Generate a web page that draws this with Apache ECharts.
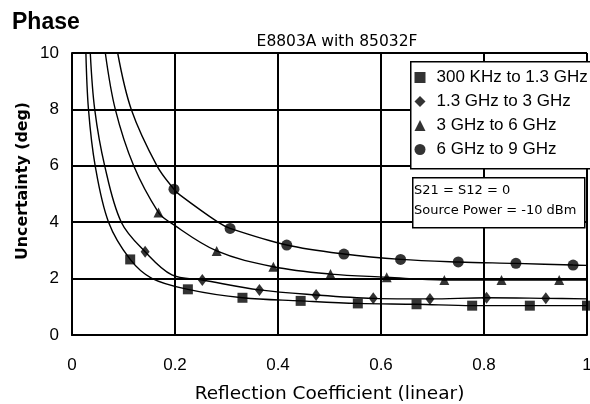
<!DOCTYPE html>
<html><head><meta charset="utf-8">
<script src="https://cdn.jsdelivr.net/npm/echarts@6/dist/echarts.min.js"></script>
<style>html,body{margin:0;padding:0;background:#fff;overflow:hidden}#c{width:590px;height:404px}</style>
</head><body><div id="c"></div>
<script>
// ---- data ----
const seriesNames = ['300 KHz to 1.3 GHz', '1.3 GHz to 3 GHz', '3 GHz to 6 GHz', '6 GHz to 9 GHz'];
const xTickLabels = ['0', '0.2', '0.4', '0.6', '0.8', '1'];
const yTickLabels = ['0', '2', '4', '6', '8', '10'];

// marker points
const s1X = [0.113, 0.225, 0.331, 0.444, 0.555, 0.669, 0.777, 0.889, 1.0];
const s1Y = [2.68, 1.62, 1.32, 1.21, 1.12, 1.09, 1.04, 1.04, 1.04];
const s2X = [0.142, 0.253, 0.364, 0.474, 0.585, 0.695, 0.805, 0.920];
const s2Y = [2.95, 1.95, 1.60, 1.42, 1.30, 1.28, 1.32, 1.30];
const s3X = [0.168, 0.281, 0.391, 0.502, 0.611, 0.723, 0.834, 0.946];
const s3Y = [4.34, 2.98, 2.42, 2.16, 2.05, 1.95, 1.95, 1.95];
const s4X = [0.198, 0.307, 0.417, 0.528, 0.638, 0.750, 0.862, 0.973];
const s4Y = [5.17, 3.78, 3.19, 2.87, 2.68, 2.59, 2.54, 2.48];

// extra points (steep part and between markers)
const c1X = [0.027, 0.032, 0.045, 0.071, 0.155];
const c1Y = [10, 8, 6, 4, 2.01];
const c2X = [0.0355, 0.0441, 0.0635, 0.0957, 0.194, 1.0];
const c2Y = [10, 8, 6, 4, 2.13, 1.28];
const c3X = [0.0647, 0.0841, 0.1198, 0.19, 1.0];
const c3Y = [10, 8, 6, 4.0, 1.95];
const c4X = [0.0887, 0.1151, 0.165, 0.21, 0.2835, 1.0];
const c4Y = [10, 8, 6, 4.96, 4.0, 2.47];

const boxLines = ['S21 = S12 = 0', 'Source Power = -10 dBm'];

// ---- build ----
function pairs(xs, ys) { return xs.map((x, i) => [x, ys[i]]); }
function curve(mx, my, cx, cy) {
  return pairs(mx, my).concat(pairs(cx, cy)).sort((a, b) => a[0] - b[0]);
}
const markerX = [s1X, s2X, s3X, s4X], markerY = [s1Y, s2Y, s3Y, s4Y];
const curveX = [c1X, c2X, c3X, c4X], curveY = [c1Y, c2Y, c3Y, c4Y];
const symbols = ['rect', 'diamond', 'triangle', 'circle'];
const symSizes = [10, [9, 12], 10, 11];

const series = [];
for (let i = 0; i < 4; i++) {
  series.push({
    type: 'line', name: 'curve' + i, data: curve(markerX[i], markerY[i], curveX[i], curveY[i]),
    showSymbol: false, smooth: 0.35,
    lineStyle: { color: '#000', width: 1.4 }, z: 3, silent: true
  });
}
for (let i = 0; i < 4; i++) {
  series.push({
    type: 'scatter', name: seriesNames[i], data: pairs(markerX[i], markerY[i]),
    symbol: symbols[i], symbolSize: symSizes[i],
    itemStyle: { color: '#000' }, z: 4
  });
}

const tickFont = '"Liberation Sans Narrow", "Arial Narrow", "Liberation Sans", Arial, sans-serif';
const chart = echarts.init(document.getElementById('c'), null, { renderer: 'canvas' });
chart.setOption({
  animation: false,
  backgroundColor: '#fff',
  title: {
    text: 'Phase', left: 12, top: 11, padding: 0,
    textStyle: { fontFamily: '"Liberation Sans", Arial, sans-serif', fontWeight: 'bold', fontSize: 23, color: '#000' }
  },
  grid: { left: 72, right: 3, top: 53, bottom: 69, containLabel: false, outerBoundsMode: 'none' },
  xAxis: {
    type: 'value', min: 0, max: 1, interval: 0.2,
    name: 'Reflection Coefficient (linear)', nameLocation: 'middle', nameGap: 50,
    nameTextStyle: { fontFamily: '"DejaVu Sans", sans-serif', fontSize: 18.5, color: '#000' },
    axisLine: { show: true, lineStyle: { color: '#000', width: 2 } },
    axisTick: { show: false },
    splitLine: { show: true, lineStyle: { color: '#000', width: 2 } },
    axisLabel: {
      margin: 22, color: '#000', fontSize: 17, fontFamily: tickFont,
      formatter: v => xTickLabels[Math.round(v / 0.2)]
    }
  },
  yAxis: {
    type: 'value', min: 0, max: 10, interval: 2,
    axisLine: { show: true, lineStyle: { color: '#000', width: 2 } },
    axisTick: { show: false },
    splitLine: { show: true, lineStyle: { color: '#000', width: 2 } },
    axisLabel: {
      margin: 13, color: '#000', fontSize: 17, fontFamily: tickFont,
      formatter: v => yTickLabels[Math.round(v / 2)]
    }
  },
  legend: {
    data: seriesNames, orient: 'vertical', left: 414.5, top: 69, padding: 0,
    itemWidth: 11, itemHeight: 11, itemGap: 7,
    textStyle: { fontFamily: '"Liberation Sans", Arial, sans-serif', fontSize: 17, lineHeight: 17, color: '#000', padding: [0, 0, 0, 6] },
    selectedMode: false, z: 10
  },
  graphic: [
    { type: 'rect', left: 410, top: 61, shape: { width: 182, height: 107 },
      style: { fill: '#fff', stroke: '#000', lineWidth: 1.5 }, z: 5 },
    { type: 'rect', left: 412, top: 177, shape: { width: 172, height: 50 },
      style: { fill: '#fff', stroke: '#000', lineWidth: 1.5 }, z: 5 },
    { type: 'text', left: 414, top: 184, z: 6,
      style: { text: boxLines[0], fill: '#000', font: '13px "DejaVu Sans", sans-serif' } },
    { type: 'text', left: 414, top: 204, z: 6,
      style: { text: boxLines[1], fill: '#000', font: '13px "DejaVu Sans", sans-serif' } },
    { type: 'text', x: 337, y: 42, z: 6,
      style: { text: 'E8803A with 85032F', fill: '#000', font: '15.5px "DejaVu Sans", sans-serif', align: 'center', verticalAlign: 'middle' } },
    { type: 'text', x: 23, y: 181, rotation: Math.PI / 2, z: 6,
      style: { text: 'Uncertainty (deg)', fill: '#000', font: 'bold 15.8px "DejaVu Sans", sans-serif', align: 'center', verticalAlign: 'middle' } }
  ],
  series: series
});
</script></body></html>
